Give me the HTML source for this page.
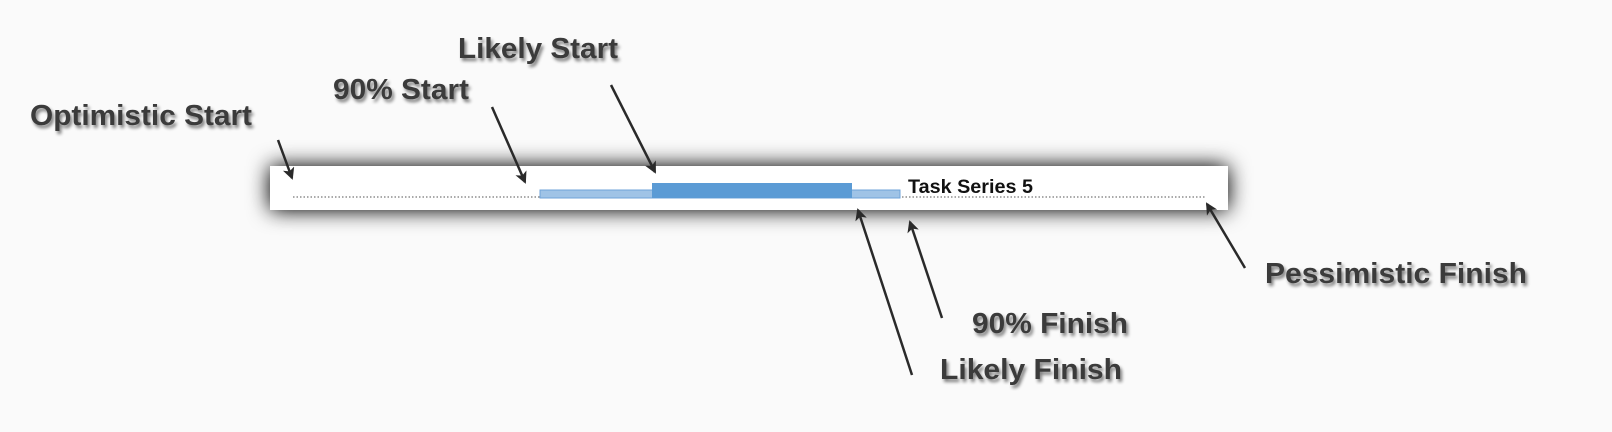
<!DOCTYPE html>
<html><head><meta charset="utf-8"><style>
html,body{margin:0;padding:0;background:#fafafa;}
svg{display:block;}
</style></head><body>
<svg width="1612" height="432" viewBox="0 0 1612 432" xmlns="http://www.w3.org/2000/svg">
<defs>
<filter id="boxsh" x="-10%" y="-150%" width="120%" height="400%">
<feGaussianBlur in="SourceAlpha" stdDeviation="11"/>
<feComponentTransfer><feFuncA type="linear" slope="1.1"/></feComponentTransfer>
<feMerge><feMergeNode/><feMergeNode in="SourceGraphic"/></feMerge>
</filter>
<filter id="tsh" x="-5%" y="-30%" width="110%" height="160%">
<feGaussianBlur in="SourceAlpha" stdDeviation="1.6"/>
<feOffset dx="2" dy="3"/>
<feComponentTransfer><feFuncA type="linear" slope="0.5"/></feComponentTransfer>
<feMerge><feMergeNode/><feMergeNode in="SourceGraphic"/></feMerge>
</filter>
<marker id="ah" markerWidth="12" markerHeight="12" refX="10" refY="6" orient="auto" markerUnits="userSpaceOnUse">
<path d="M0,0 L12,6 L0,12 L3,6 z" fill="#2a2a2a"/>
</marker>
</defs>
<rect width="1612" height="432" fill="#fafafa"/>
<rect x="270" y="166" width="958" height="44" fill="#fff" filter="url(#boxsh)"/>
<line x1="293" y1="197" x2="1205" y2="197" stroke="#aaa" stroke-width="2" stroke-dasharray="1.5,2"/>
<rect x="540" y="190" width="360" height="8" fill="#9fc3e6" stroke="#6fa3d8" stroke-width="1"/>
<rect x="652" y="183" width="200" height="15" fill="#5b9bd5"/>
<text x="908" y="193" font-family="Liberation Sans, sans-serif" font-weight="bold" font-size="19" fill="#111" textLength="125" lengthAdjust="spacingAndGlyphs">Task Series 5</text>
<g stroke="#2a2a2a" stroke-width="2.5" fill="none" marker-end="url(#ah)">
<line x1="278" y1="140" x2="292" y2="178"/>
<line x1="492" y1="107" x2="525" y2="182"/>
<line x1="611" y1="85" x2="655" y2="172"/>
<line x1="912" y1="375" x2="858" y2="210"/>
<line x1="942" y1="318" x2="910" y2="222"/>
<line x1="1245" y1="268" x2="1207" y2="204"/>
</g>
<g font-family="Liberation Sans, sans-serif" font-weight="bold" font-size="29" fill="#3a3a3a" filter="url(#tsh)">
<text x="30" y="125" textLength="222" lengthAdjust="spacingAndGlyphs">Optimistic Start</text>
<text x="333" y="99" textLength="136" lengthAdjust="spacingAndGlyphs">90% Start</text>
<text x="458" y="58" textLength="160" lengthAdjust="spacingAndGlyphs">Likely Start</text>
<text x="1265" y="283" textLength="262" lengthAdjust="spacingAndGlyphs">Pessimistic Finish</text>
<text x="972" y="333" textLength="156" lengthAdjust="spacingAndGlyphs">90% Finish</text>
<text x="940" y="379" textLength="182" lengthAdjust="spacingAndGlyphs">Likely Finish</text>
</g>
</svg>
</body></html>
